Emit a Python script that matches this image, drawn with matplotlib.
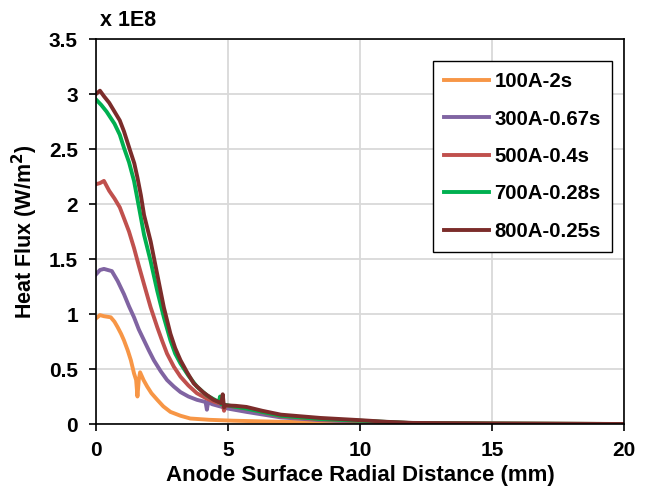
import matplotlib
matplotlib.use("Agg")
import matplotlib.pyplot as plt

# DATA (heat flux in units of 1E8 W/m^2)

x_100 = [0, 0.15, 0.3, 0.56, 0.7, 0.82, 0.95, 1.06, 1.2, 1.32, 1.44, 1.52, 1.57, 1.62, 1.67, 1.8, 1.94, 2.1, 2.32, 2.55, 2.82, 3.2, 3.57, 4.3, 5.2, 7, 10, 15, 20]
y_100 = [0.96, 0.99, 0.98, 0.97, 0.93, 0.88, 0.82, 0.76, 0.67, 0.58, 0.46, 0.40, 0.25, 0.40, 0.47, 0.40, 0.34, 0.28, 0.22, 0.16, 0.11, 0.075, 0.05, 0.038, 0.03, 0.02, 0.01, 0.003, 0]

x_300 = [0, 0.15, 0.3, 0.6, 0.82, 1.06, 1.25, 1.44, 1.62, 1.82, 2.0, 2.19, 2.45, 2.69, 2.95, 3.2, 3.5, 3.82, 4.15, 4.2, 4.25, 4.4, 5.0, 5.7, 7, 8.5, 10, 12, 15, 20]
y_300 = [1.36, 1.40, 1.41, 1.39, 1.30, 1.18, 1.07, 0.97, 0.86, 0.76, 0.67, 0.58, 0.48, 0.40, 0.34, 0.29, 0.25, 0.22, 0.20, 0.13, 0.20, 0.18, 0.14, 0.11, 0.06, 0.035, 0.02, 0.006, 0.002, 0]

x_500 = [0, 0.15, 0.3, 0.5, 0.7, 0.9, 1.06, 1.25, 1.44, 1.62, 1.82, 2.07, 2.32, 2.5, 2.69, 2.95, 3.2, 3.5, 3.82, 4.2, 4.5, 4.8, 4.85, 4.9, 5.3, 5.7, 7, 8.5, 10, 12, 15, 20]
y_500 = [2.18, 2.19, 2.21, 2.12, 2.05, 1.97, 1.87, 1.75, 1.60, 1.44, 1.27, 1.06, 0.88, 0.76, 0.64, 0.52, 0.43, 0.35, 0.28, 0.23, 0.20, 0.18, 0.12, 0.17, 0.155, 0.14, 0.07, 0.04, 0.025, 0.008, 0.003, 0]

x_700 = [0, 0.2, 0.4, 0.7, 0.9, 1.06, 1.25, 1.44, 1.62, 1.82, 2.07, 2.32, 2.57, 2.82, 3.0, 3.2, 3.5, 3.82, 4.2, 4.65, 4.7, 4.75, 5.2, 5.7, 7, 8.5, 10, 12, 15, 20]
y_700 = [2.95, 2.90, 2.84, 2.73, 2.63, 2.51, 2.38, 2.21, 1.98, 1.72, 1.48, 1.21, 0.97, 0.76, 0.64, 0.55, 0.44, 0.34, 0.26, 0.20, 0.25, 0.18, 0.16, 0.14, 0.075, 0.045, 0.03, 0.008, 0.004, 0]

x_800 = [0, 0.15, 0.3, 0.5, 0.7, 0.9, 1.06, 1.3, 1.45, 1.57, 1.7, 1.82, 2.07, 2.32, 2.57, 2.82, 3.0, 3.2, 3.45, 3.7, 4.05, 4.45, 4.75, 4.8, 4.85, 4.9, 5.3, 5.7, 6.3, 7.0, 8.5, 10, 11, 12, 15, 20]
y_800 = [3.0, 3.03, 2.98, 2.92, 2.84, 2.76, 2.66, 2.48, 2.37, 2.24, 2.08, 1.90, 1.66, 1.36, 1.06, 0.82, 0.69, 0.58, 0.47, 0.37, 0.29, 0.22, 0.19, 0.27, 0.15, 0.17, 0.165, 0.155, 0.12, 0.085, 0.055, 0.035, 0.02, 0.01, 0.005, 0.0]

labels = ["100A-2s", "300A-0.67s", "500A-0.4s", "700A-0.28s", "800A-0.25s"]
colors = ["#F79646", "#8064A2", "#C0504D", "#00B050", "#7B2C2A"]

x_ticks = [0, 5, 10, 15, 20]
y_ticks = [0, 0.5, 1, 1.5, 2, 2.5, 3, 3.5]

# FIGURE

plt.rcParams['font.family'] = ['Liberation Sans', 'DejaVu Sans']
plt.rcParams['font.weight'] = 'bold'

fig = plt.figure(figsize=(6.49, 4.9), dpi=100)
ax = fig.add_axes([96/649, 66/490, 528/649, 385/490])

series = [(x_100, y_100), (x_300, y_300), (x_500, y_500), (x_700, y_700), (x_800, y_800)]
for (xs, ys), lab, col in zip(series, labels, colors):
    ax.plot(xs, ys, color=col, lw=2.8, label=lab, solid_joinstyle='round')

ax.set_xlim(0, 20)
ax.set_ylim(0, 3.5)
ax.set_xticks(x_ticks)
ax.set_yticks(y_ticks)
ax.set_xticklabels([str(t) for t in x_ticks])
ax.set_yticklabels([f"{t:g}" for t in y_ticks])
ax.grid(True, color='#d9d9d9', lw=1.3)
ax.set_axisbelow(True)

for s in ax.spines.values():
    s.set_color('black')
    s.set_linewidth(1.2)

ax.tick_params(axis='both', direction='out', length=5, width=1.2, labelsize=15)
ax.tick_params(axis='y', pad=8)
ax.tick_params(axis='x', pad=7)

ax.set_xlabel("Anode Surface Radial Distance (mm)", fontsize=16, fontweight='bold', labelpad=4)
ax.set_ylabel("Heat Flux (W/m$^\\mathbf{2}$)", fontsize=15.5, fontweight='bold', labelpad=6)

fig.text(100/649, 1 - 26/490, "x 1E8", fontsize=15.5, fontweight='bold', va='baseline')

leg = ax.legend(loc='upper right', bbox_to_anchor=(0.977, 0.943), borderaxespad=0,
                fancybox=False, edgecolor='black', framealpha=1, fontsize=14.7,
                handlelength=2.2, labelspacing=0.9, borderpad=0.55, handletextpad=0.25)
leg.get_frame().set_linewidth(1.0)

# SAVE

fig.savefig("out.png", dpi=100)
